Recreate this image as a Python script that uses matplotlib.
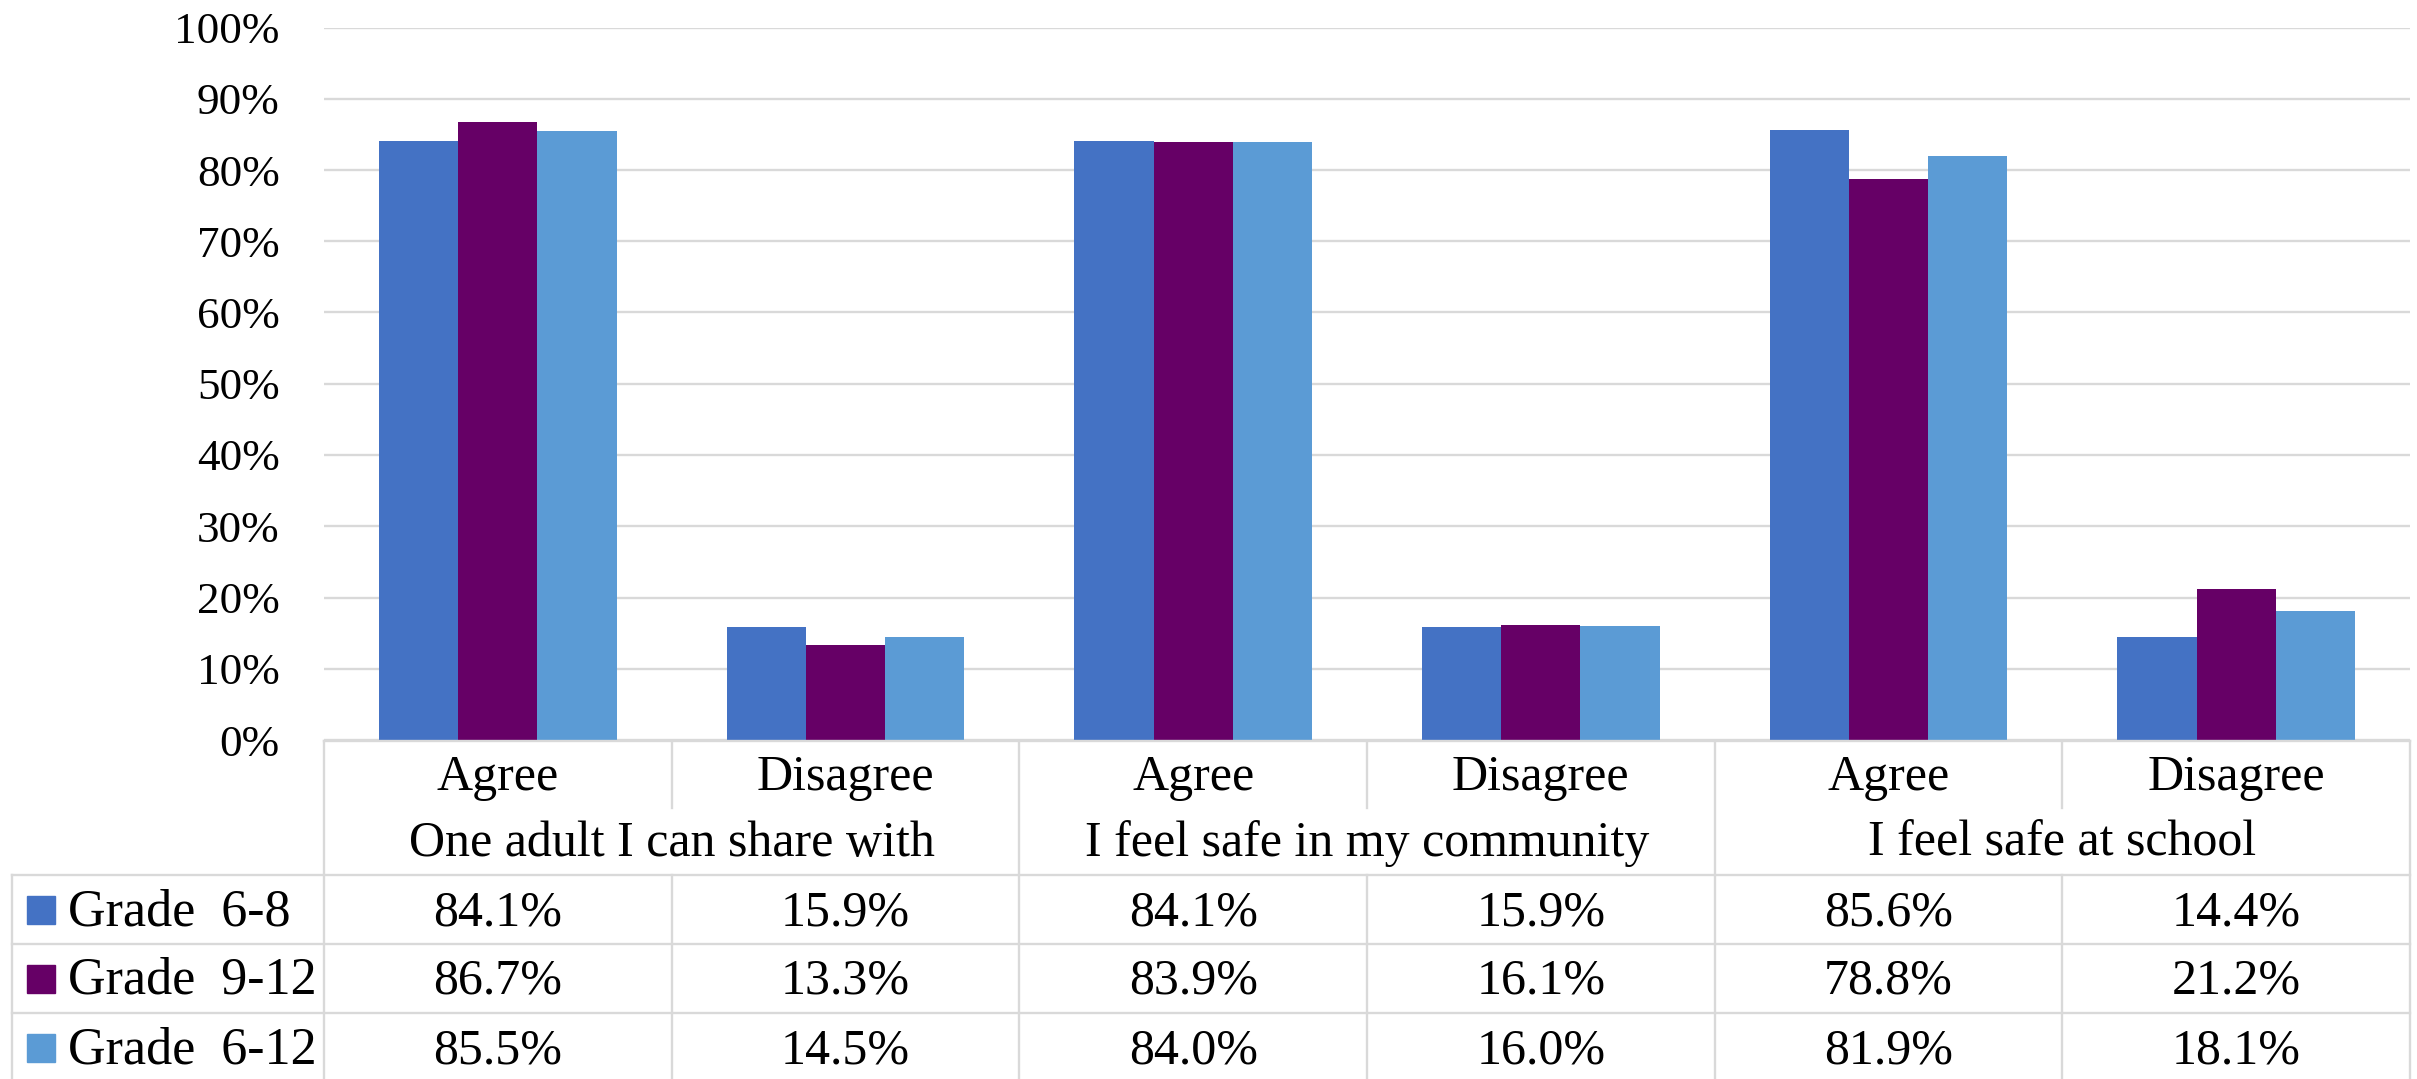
import matplotlib
matplotlib.use('Agg')
import matplotlib.pyplot as plt
from matplotlib.patches import Rectangle
from matplotlib.ticker import PercentFormatter
import numpy as np

plt.rcParams['font.family'] = ['Liberation Serif', 'DejaVu Serif']

groups = ['One adult I can share with', 'I feel safe in my community', 'I feel safe at school']
responses = ['Agree', 'Disagree']
series_names = ['Grade  6-8', 'Grade  9-12', 'Grade  6-12']
grade_6_8 = [84.1, 15.9, 84.1, 15.9, 85.6, 14.4]
grade_9_12 = [86.7, 13.3, 83.9, 16.1, 78.8, 21.2]
grade_6_12 = [85.5, 14.5, 84.0, 16.0, 81.9, 18.1]
colors = ['#4472C4', '#660066', '#5B9BD5']

W, H = 2417, 1079
fig = plt.figure(figsize=(W / 100, H / 100), dpi=100)

# pixel layout of plot area and table below it
left, right = 324, 2410
top, base = 27.5, 740
ax = fig.add_axes([left / W, 1 - base / H, (right - left) / W, (base - top) / H])

series = [grade_6_8, grade_9_12, grade_6_12]
n = len(grade_6_8)
x = np.arange(n)
bw = 0.228
for i, (vals, c) in enumerate(zip(series, colors)):
    ax.bar(x + (i - 1) * bw, np.array(vals) / 100, bw, color=c, zorder=3)

ax.set_xlim(-0.5, n - 0.5)
ax.set_ylim(0, 1)
ax.set_yticks(np.arange(0, 1.01, 0.1))
ax.yaxis.set_major_formatter(PercentFormatter(1, decimals=0))
ax.set_xticks([])
ax.tick_params(axis='y', length=0, pad=32, labelsize=32.5)
ax.yaxis.grid(True, color='#d9d9d9', lw=1.7)
ax.set_axisbelow(True)
for s in ax.spines.values():
    s.set_visible(False)

# overlay in pixel coordinates for the data table
ov = fig.add_axes([0, 0, 1, 1])
ov.set_xlim(0, W)
ov.set_ylim(H, 0)
ov.axis('off')
ov.patch.set_alpha(0)

lc = '#d9d9d9'
lw = 1.7
cw = (right - left) / n
hdr_mid, hdr_bot = 808, 875
row_edges = [875, 944, 1013, 1082]
leg_left = 12

ov.plot([left, right], [741, 741], color=lc, lw=lw)
for yy in row_edges[:-1]:
    ov.plot([leg_left, right], [yy, yy], color=lc, lw=lw)
ov.plot([leg_left, leg_left], [hdr_bot, H], color=lc, lw=lw)
for k in range(n + 1):
    xx = left + k * cw
    if k % 2 == 0:
        ov.plot([xx, xx], [741, H], color=lc, lw=lw)
    else:
        ov.plot([xx, xx], [741, hdr_mid], color=lc, lw=lw)
        ov.plot([xx, xx], [hdr_bot, H], color=lc, lw=lw)

fs = 36
for k in range(n):
    cx = left + (k + 0.5) * cw
    ov.text(cx, 790, responses[k % 2], ha='center', va='baseline', fontsize=fs)
for g, name in enumerate(groups):
    cx = left + (2 * g + 1) * cw
    ov.text(cx, 856, name, ha='center', va='baseline', fontsize=fs)

for r, (name, vals, c) in enumerate(zip(series_names, series, colors)):
    y0 = row_edges[r]
    ov.add_patch(Rectangle((27, y0 + 21), 28, 28, color=c))
    ov.text(68, y0 + 50, name, ha='left', va='baseline', fontsize=37.5)
    for k, v in enumerate(vals):
        cx = left + (k + 0.5) * cw
        ov.text(cx, y0 + 50, f'{v:.1f}%', ha='center', va='baseline', fontsize=fs)

fig.savefig('out.png', dpi=100)
